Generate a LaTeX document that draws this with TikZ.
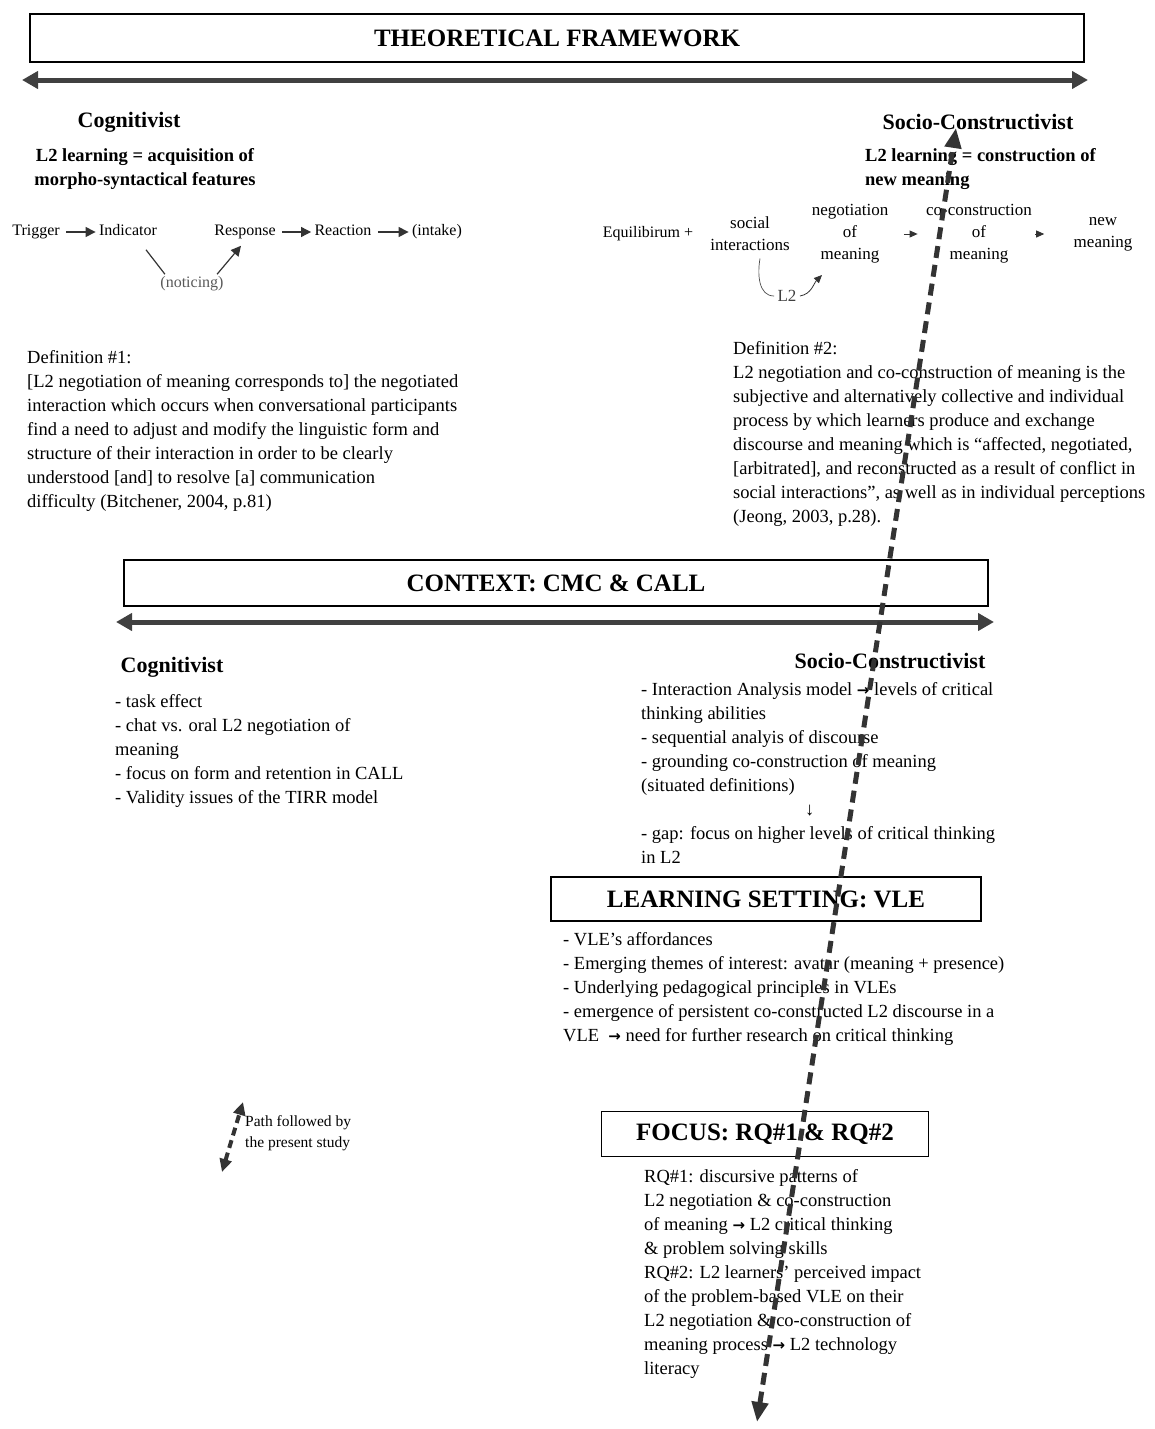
\documentclass[tikz,border=0pt]{standalone}
\usepackage{fontspec}
\setmainfont{Liberation Serif}
\newfontfamily\arrowfont{DejaVu Sans}
\newcommand{\toarrow}{{\arrowfont\bfseries\fontsize{15}{24}\selectfont →}}
\usetikzlibrary{arrows.meta}

\begin{document}
\begin{tikzpicture}[x=1pt, y=-1pt,
    bigbox/.style={draw, line width=1.3pt, inner sep=0pt, font=\bfseries\fontsize{25}{28}\selectfont},
    head/.style={font=\bfseries\fontsize{22}{24}\selectfont},
    subhead/.style={font=\bfseries\fontsize{18.5}{24}\selectfont, inner sep=0pt},
    txt/.style={font=\fontsize{18.5}{24}\selectfont, align=left, anchor=north west, inner sep=0pt},
    flow/.style={font=\fontsize{16}{22}\selectfont, text height=11pt, text depth=3.5pt},
    flowsm/.style={font=\fontsize{17}{22}\selectfont, align=center},
    bar/.style={line width=5pt, draw=black!75, {Triangle[length=16pt,width=17pt]}-{Triangle[length=16pt,width=17pt]}},
    link/.style={line width=1.2pt, draw=black!80, -{Triangle[length=10pt,width=10pt]}},
    studypath/.style={line width=5pt, draw=black!80, dash pattern=on 12pt off 7pt, {Triangle[length=20pt,width=16pt]}-{Triangle[length=20pt,width=16pt]}}]
    \useasboundingbox (0,0) rectangle (1154,1429);

    \node[bigbox, minimum width=1054pt, minimum height=48pt] (tf) at (557,38) {THEORETICAL FRAMEWORK};
    \coordinate (tfl) at (22,80);
    \coordinate (tfr) at (1088,80);
    \draw[bar] (tfl) -- (tfr);

    \node[head] (cogA) at (129,122) {Cognitivist};
    \node[subhead, align=center, anchor=north] (cogAdef) at (145,148) {L2 learning = acquisition of\\morpho-syntactical features};
    \node[head] (socA) at (978,122) {Socio-Constructivist};
    \node[subhead, align=left, anchor=north west] (socAdef) at (865,148) {L2 learning = construction of\\new meaning};

    \node[flow] (trig) at (36,232) {Trigger};
    \node[flow] (ind) at (128,232) {Indicator};
    \node[flow] (resp) at (245,232) {Response};
    \node[flow] (react) at (343,232) {Reaction};
    \node[flow] (intake) at (437,232) {(intake)};
    \node[flow, text=black!65] (notic) at (192,284) {(noticing)};
    \draw[link, shorten <=3pt] (trig) -- (ind);
    \draw[link, shorten <=3pt] (resp) -- (react);
    \draw[link, shorten <=3pt] (react) -- (intake);
    \draw[line width=1.2pt, black!80] ([xshift=18pt,yshift=-7pt]ind.south) -- ([xshift=8pt,yshift=-1pt]notic.north west);
    \draw[link] ([xshift=-10pt,yshift=-1pt]notic.north east) -- ([xshift=-4pt,yshift=-3pt]resp.south);

    \node[flow] (equi) at (648,234) {Equilibirum +};
    \node[flowsm] (soc) at (750,234) {social\\interactions};
    \node[flowsm] (neg) at (850,234) {negotiation\\of\\meaning};
    \node[flowsm] (cocon) at (979,234) {co-construction\\of\\meaning};
    \node[flowsm] (newm) at (1103,234) {new\\meaning};
    \node[flowsm, text=black!75] (ltwo) at (787,296) {L2};
    \draw[link, line width=0.8pt, -{Triangle[length=8pt,width=7pt]}, shorten <=12pt, shorten >=5pt] (neg) -- (cocon);
    \draw[link, line width=0.8pt, -{Triangle[length=8pt,width=7pt]}, shorten >=26pt] (cocon) -- (newm);
    \draw[line width=0.7pt, black!70] ([xshift=10pt,yshift=-4pt]soc.south) to[out=-100, in=180] (ltwo.west);
    \draw[link, line width=0.8pt, -{Triangle[length=8pt,width=7pt]}] (ltwo.east) to[out=10, in=-135] ([xshift=-28pt,yshift=-8pt]neg.south);

    \node[txt] (defA) at (27,350) {Definition \#1:\\
    {[}L2 negotiation of meaning corresponds to] the negotiated\\
    interaction which occurs when conversational participants\\
    find a need to adjust and modify the linguistic form and\\
    structure of their interaction in order to be clearly\\
    understood [and] to resolve [a] communication\\
    difficulty (Bitchener, 2004, p.81)};
    \node[txt] (defB) at (733,341) {Definition \#2:\\
    L2 negotiation and co-construction of meaning is the\\
    subjective and alternatively collective and individual\\
    process by which learners produce and exchange\\
    discourse and meaning which is “affected, negotiated,\\
    {[}arbitrated], and reconstructed as a result of conflict in\\
    social interactions”, as well as in individual perceptions\\
    (Jeong, 2003, p.28).};

    \node[bigbox, minimum width=864pt, minimum height=46pt] (ctx) at (556,583) {CONTEXT: CMC \& CALL};
    \coordinate (ctxl) at (116,622);
    \coordinate (ctxr) at (994,622);
    \draw[bar] (ctxl) -- (ctxr);

    \node[head] (cogB) at (172,667) {Cognitivist};
    \node[txt] (cogBlist) at (115,694) {- task effect\\
    - chat vs. oral L2 negotiation of\\
    meaning\\
    - focus on form and retention in CALL\\
    - Validity issues of the TIRR model};
    \node[head] (socB) at (890,661) {Socio-Constructivist};
    \node[txt] (socBlist) at (641,682) {- Interaction Analysis model \toarrow{} levels of critical\\
    thinking abilities\\
    - sequential analyis of discourse\\
    - grounding co-construction of meaning\\
    (situated definitions)\\
    \hspace*{164pt}↓\\
    - gap: focus on higher levels of critical thinking\\
    in L2};

    \node[bigbox, minimum width=430pt, minimum height=44pt] (vle) at (766,899) {LEARNING SETTING: VLE};
    \node[txt] (vlelist) at (563,932) {- VLE's affordances\\
    - Emerging themes of interest: avatar (meaning + presence)\\
    - Underlying pedagogical principles in VLEs\\
    - emergence of persistent co-constructed L2 discourse in a\\
    VLE~ \toarrow{} need for further research on critical thinking};

    \coordinate (lgb) at (222,1172);
    \coordinate (lgt) at (243,1102);
    \draw[line width=4pt, draw=black!80, dash pattern=on 8pt off 5pt, {Triangle[length=13pt,width=12pt]}-{Triangle[length=13pt,width=12pt]}] (lgb) -- (lgt);
    \node[txt, font=\fontsize{15.5}{21}\selectfont] (lgtxt) at (245,1115) {Path followed by\\the present study};

    \node[bigbox, minimum width=327pt, minimum height=45pt] (focus) at (765,1134) {FOCUS: RQ\#1 \& RQ\#2};
    \node[txt] (rq) at (644,1169) {RQ\#1: discursive patterns of\\
    L2 negotiation \& co-construction\\
    of meaning \toarrow{} L2 critical thinking\\
    \& problem solving skills\\
    RQ\#2: L2 learners' perceived impact\\
    of the problem-based VLE on their\\
    L2 negotiation \& co-construction of\\
    meaning process \toarrow{} L2 technology\\
    literacy};

    \coordinate (pathb) at (757,1422);
    \coordinate (patht) at (956,128);
    \draw[studypath] (pathb) -- (patht);
\end{tikzpicture}
\end{document}
